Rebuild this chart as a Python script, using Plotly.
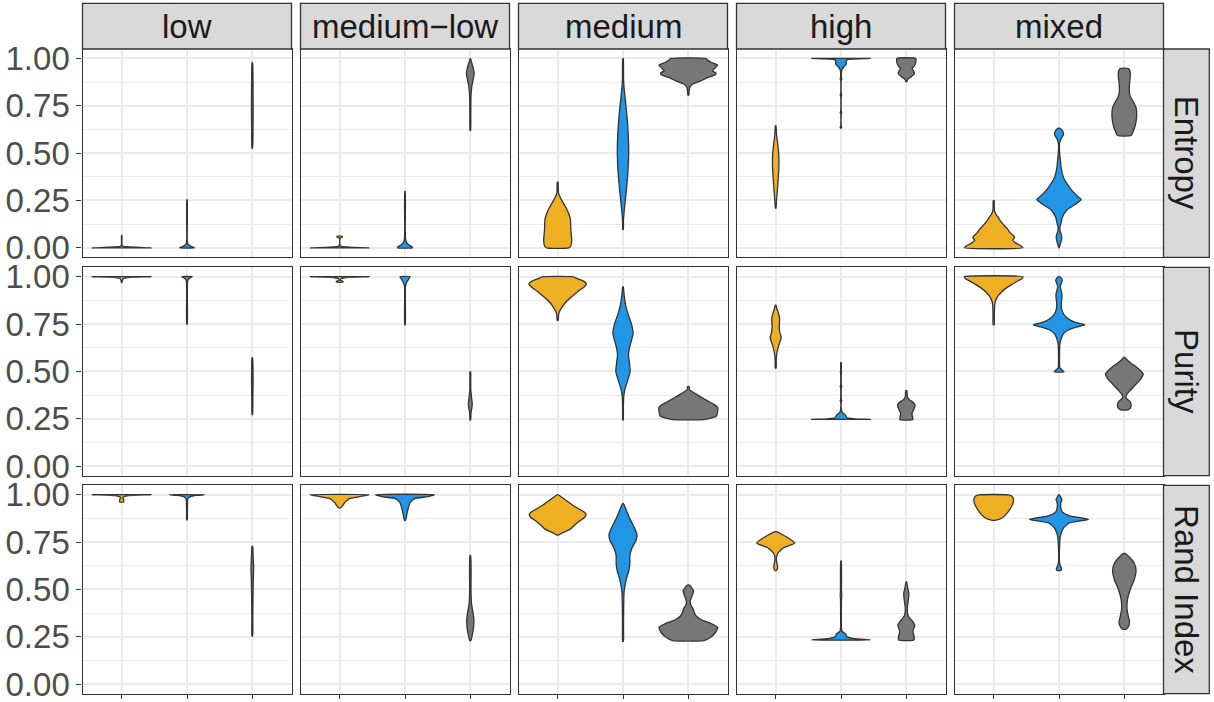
import plotly.graph_objects as go

W, H = 1214, 702
METRICS = ["Entropy", "Purity", "Rand Index"]
LEVELS = ["low", "medium−low", "medium", "high", "mixed"]
GROUP_COLORS = ["#EEB022", "#2196E6", "#777777"]
Y_TICKS = [0, 0.25, 0.5, 0.75, 1.0]
Y_TICK_TEXT = ["0.00", "0.25", "0.50", "0.75", "1.00"]
Y_MINOR = [0.125, 0.375, 0.625, 0.875]

# Density profiles: (value, half-width) pairs, one list per violin
# order inside each panel: orange, blue, gray group
ENTROPY = {
    "low": [
        [(0, 0.45), (0.003, 0.2), (0.008, 0.02), (0.015, 0.004), (0.065, 0.003)],
        [(0, 0.115), (0.008, 0.06), (0.018, 0.015), (0.04, 0.004), (0.254, 0.003)],
        [(0.526, 0.004), (0.6, 0.01), (0.75, 0.013), (0.9, 0.01), (0.977, 0.004)],
    ],
    "medium−low": [
        [(0, 0.45), (0.004, 0.15), (0.01, 0.01), (0.05, 0.004), (0.056, 0.04), (0.062, 0.04)],
        [(0, 0.115), (0.005, 0.11), (0.015, 0.06), (0.03, 0.02), (0.05, 0.008), (0.1, 0.004), (0.298, 0.003)],
        [(0.619, 0.004), (0.7, 0.007), (0.8, 0.01), (0.85, 0.022), (0.9, 0.05), (0.92, 0.06),
         (0.95, 0.045), (0.98, 0.02), (1.0, 0.003)],
    ],
    "medium": [
        [(0, 0.17), (0.01, 0.2), (0.04, 0.215), (0.08, 0.205), (0.11, 0.2), (0.15, 0.195), (0.18, 0.17),
         (0.21, 0.13), (0.24, 0.08), (0.27, 0.035), (0.29, 0.012), (0.347, 0.006)],
        [(0.096, 0.004), (0.15, 0.008), (0.2, 0.02), (0.3, 0.05), (0.4, 0.075), (0.5, 0.087), (0.6, 0.08),
         (0.7, 0.06), (0.8, 0.03), (0.85, 0.015), (0.9, 0.008), (1.0, 0.004)],
        [(0.807, 0.008), (0.83, 0.012), (0.85, 0.025), (0.865, 0.07), (0.88, 0.18), (0.9, 0.3), (0.915, 0.42),
         (0.925, 0.42), (0.935, 0.37), (0.95, 0.41), (0.965, 0.45), (0.98, 0.35), (0.99, 0.3), (1.0, 0.27)],
    ],
    "high": [
        [(0.21, 0.005), (0.25, 0.012), (0.3, 0.025), (0.35, 0.035), (0.4, 0.045), (0.45, 0.05), (0.5, 0.045),
         (0.55, 0.03), (0.6, 0.012), (0.644, 0.005)],
        [(0.632, 0.004), (0.636, 0.012), (0.642, 0.004), (0.71, 0.004), (0.714, 0.012), (0.72, 0.004),
         (0.8, 0.004), (0.807, 0.012), (0.813, 0.004), (0.885, 0.004), (0.89, 0.012), (0.9, 0.006),
         (0.94, 0.012), (0.955, 0.04), (0.97, 0.08), (0.985, 0.08), (0.994, 0.1), (0.998, 0.3), (1.0, 0.45)],
        [(0.877, 0.005), (0.89, 0.02), (0.905, 0.08), (0.92, 0.125), (0.935, 0.11), (0.948, 0.09),
         (0.96, 0.12), (0.98, 0.145), (1.0, 0.145)],
    ],
    "mixed": [
        [(0, 0.45), (0.01, 0.42), (0.025, 0.34), (0.04, 0.29), (0.055, 0.32), (0.065, 0.3), (0.08, 0.25),
         (0.1, 0.21), (0.13, 0.13), (0.16, 0.07), (0.18, 0.03), (0.2, 0.01), (0.25, 0.006)],
        [(0, 0.003), (0.02, 0.02), (0.045, 0.04), (0.065, 0.04), (0.085, 0.02), (0.105, 0.012), (0.13, 0.03),
         (0.16, 0.05), (0.2, 0.12), (0.23, 0.25), (0.255, 0.34), (0.28, 0.26), (0.31, 0.18), (0.34, 0.12),
         (0.37, 0.07), (0.4, 0.045), (0.43, 0.03), (0.46, 0.022), (0.5, 0.01), (0.55, 0.008), (0.575, 0.03),
         (0.6, 0.07), (0.62, 0.05), (0.632, 0.01)],
        [(0.593, 0.105), (0.61, 0.13), (0.65, 0.17), (0.7, 0.19), (0.74, 0.18), (0.77, 0.14), (0.8, 0.09),
         (0.83, 0.075), (0.87, 0.08), (0.9, 0.09), (0.93, 0.09), (0.947, 0.065)],
    ],
}

PURITY = {
    "low": [
        [(0.97, 0.004), (0.98, 0.01), (0.99, 0.02), (0.996, 0.1), (1.0, 0.45)],
        [(0.75, 0.004), (0.9, 0.005), (0.97, 0.008), (0.98, 0.012), (0.99, 0.03), (1.0, 0.08)],
        [(0.272, 0.004), (0.35, 0.008), (0.45, 0.012), (0.52, 0.01), (0.572, 0.004)],
    ],
    "medium−low": [
        [(0.972, 0.05), (0.976, 0.05), (0.98, 0.01), (0.99, 0.02), (0.997, 0.15), (1.0, 0.45)],
        [(0.746, 0.004), (0.9, 0.005), (0.95, 0.008), (0.97, 0.025), (0.99, 0.06), (1.0, 0.077)],
        [(0.244, 0.005), (0.28, 0.01), (0.31, 0.025), (0.33, 0.03), (0.36, 0.02), (0.4, 0.008),
         (0.45, 0.006), (0.498, 0.005)],
    ],
    "medium": [
        [(0.77, 0.008), (0.79, 0.012), (0.81, 0.02), (0.83, 0.05), (0.86, 0.11), (0.89, 0.2), (0.92, 0.3),
         (0.945, 0.4), (0.963, 0.44), (0.98, 0.38), (0.99, 0.3), (1.0, 0.24)],
        [(0.244, 0.004), (0.3, 0.006), (0.36, 0.01), (0.4, 0.025), (0.45, 0.07), (0.5, 0.11), (0.54, 0.1),
         (0.59, 0.084), (0.64, 0.11), (0.7, 0.155), (0.75, 0.13), (0.8, 0.08), (0.85, 0.04), (0.9, 0.018),
         (0.947, 0.004)],
        [(0.246, 0.24), (0.255, 0.36), (0.265, 0.43), (0.29, 0.45), (0.31, 0.45), (0.325, 0.4), (0.34, 0.32),
         (0.36, 0.22), (0.38, 0.12), (0.395, 0.05), (0.405, 0.015), (0.421, 0.012)],
    ],
    "high": [
        [(0.518, 0.006), (0.56, 0.008), (0.6, 0.02), (0.64, 0.05), (0.68, 0.085), (0.71, 0.06), (0.74, 0.055),
         (0.78, 0.06), (0.81, 0.04), (0.83, 0.02), (0.849, 0.005)],
        [(0.247, 0.45), (0.25, 0.2), (0.255, 0.09), (0.265, 0.075), (0.275, 0.05), (0.285, 0.015),
         (0.293, 0.012), (0.3, 0.005), (0.34, 0.005), (0.346, 0.012), (0.352, 0.005), (0.415, 0.005),
         (0.421, 0.012), (0.427, 0.005), (0.49, 0.005), (0.495, 0.01), (0.5, 0.005), (0.547, 0.004)],
        [(0.246, 0.1), (0.26, 0.095), (0.28, 0.087), (0.3, 0.115), (0.32, 0.135), (0.335, 0.11), (0.35, 0.05),
         (0.365, 0.015), (0.398, 0.01)],
    ],
    "mixed": [
        [(0.746, 0.008), (0.8, 0.01), (0.85, 0.015), (0.875, 0.03), (0.9, 0.07), (0.92, 0.12), (0.94, 0.19),
         (0.96, 0.28), (0.98, 0.38), (0.99, 0.43), (1.0, 0.45)],
        [(0.498, 0.077), (0.51, 0.04), (0.52, 0.012), (0.55, 0.008), (0.6, 0.008), (0.64, 0.012), (0.67, 0.03),
         (0.7, 0.07), (0.72, 0.15), (0.735, 0.28), (0.746, 0.395), (0.755, 0.3), (0.77, 0.18), (0.79, 0.1),
         (0.81, 0.06), (0.83, 0.04), (0.86, 0.035), (0.89, 0.045), (0.91, 0.045), (0.93, 0.03), (0.95, 0.02),
         (0.965, 0.035), (0.98, 0.05), (0.99, 0.04), (1.0, 0.015)],
        [(0.297, 0.05), (0.305, 0.09), (0.32, 0.105), (0.34, 0.09), (0.355, 0.04), (0.365, 0.025), (0.38, 0.04),
         (0.4, 0.09), (0.43, 0.17), (0.46, 0.25), (0.486, 0.29), (0.51, 0.23), (0.535, 0.14), (0.555, 0.06),
         (0.574, 0.008)],
    ],
}

RAND_INDEX = {
    "low": [
        [(0.962, 0.03), (0.975, 0.03), (0.985, 0.015), (0.995, 0.1), (1.0, 0.45)],
        [(0.868, 0.005), (0.9, 0.006), (0.95, 0.008), (0.98, 0.015), (0.99, 0.05), (0.997, 0.15), (1.0, 0.27)],
        [(0.254, 0.005), (0.35, 0.007), (0.45, 0.01), (0.55, 0.015), (0.62, 0.02), (0.68, 0.012), (0.728, 0.005)],
    ],
    "medium−low": [
        [(0.93, 0.01), (0.94, 0.04), (0.96, 0.08), (0.98, 0.15), (0.99, 0.3), (1.0, 0.45)],
        [(0.865, 0.008), (0.88, 0.02), (0.9, 0.03), (0.93, 0.05), (0.96, 0.08), (0.98, 0.15), (0.99, 0.35),
         (1.0, 0.45)],
        [(0.23, 0.008), (0.26, 0.03), (0.3, 0.05), (0.34, 0.055), (0.38, 0.04), (0.42, 0.02), (0.5, 0.01),
         (0.6, 0.012), (0.68, 0.005)],
    ],
    "medium": [
        [(0.787, 0.01), (0.8, 0.08), (0.82, 0.2), (0.84, 0.26), (0.86, 0.33), (0.88, 0.41), (0.896, 0.436),
         (0.91, 0.4), (0.93, 0.3), (0.945, 0.23), (0.96, 0.17), (0.975, 0.11), (0.99, 0.05), (1.0, 0.01)],
        [(0.226, 0.006), (0.3, 0.008), (0.4, 0.01), (0.48, 0.015), (0.52, 0.03), (0.56, 0.055), (0.6, 0.09),
         (0.64, 0.105), (0.68, 0.105), (0.72, 0.14), (0.76, 0.2), (0.79, 0.214), (0.83, 0.17), (0.87, 0.11),
         (0.91, 0.06), (0.94, 0.025), (0.954, 0.005)],
        [(0.23, 0.24), (0.245, 0.33), (0.27, 0.41), (0.3, 0.45), (0.32, 0.35), (0.34, 0.2), (0.36, 0.12),
         (0.38, 0.09), (0.4, 0.07), (0.42, 0.035), (0.44, 0.03), (0.46, 0.05), (0.49, 0.08), (0.51, 0.05),
         (0.524, 0.008)],
    ],
    "high": [
        [(0.6, 0.008), (0.615, 0.03), (0.63, 0.025), (0.66, 0.01), (0.69, 0.03), (0.72, 0.12), (0.745, 0.29),
         (0.77, 0.2), (0.79, 0.1), (0.805, 0.01)],
        [(0.233, 0.45), (0.24, 0.2), (0.25, 0.09), (0.265, 0.07), (0.28, 0.015), (0.3, 0.006), (0.35, 0.006),
         (0.4, 0.006), (0.45, 0.008), (0.47, 0.012), (0.49, 0.008), (0.55, 0.008), (0.6, 0.008), (0.65, 0.004)],
        [(0.233, 0.12), (0.25, 0.12), (0.28, 0.1), (0.31, 0.13), (0.33, 0.1), (0.36, 0.03), (0.4, 0.015),
         (0.44, 0.03), (0.48, 0.04), (0.51, 0.02), (0.54, 0.005)],
    ],
    "mixed": [
        [(0.865, 0.02), (0.87, 0.08), (0.88, 0.14), (0.9, 0.2), (0.93, 0.26), (0.96, 0.3), (0.98, 0.3),
         (0.995, 0.27), (1.0, 0.22)],
        [(0.6, 0.03), (0.61, 0.04), (0.625, 0.02), (0.65, 0.006), (0.72, 0.008), (0.78, 0.02), (0.82, 0.06),
         (0.85, 0.15), (0.87, 0.45), (0.89, 0.15), (0.91, 0.05), (0.94, 0.025), (0.96, 0.03), (0.975, 0.045),
         (0.99, 0.02), (1.0, 0.005)],
        [(0.29, 0.03), (0.31, 0.07), (0.33, 0.08), (0.36, 0.06), (0.4, 0.04), (0.45, 0.05), (0.5, 0.09),
         (0.55, 0.15), (0.6, 0.18), (0.64, 0.15), (0.67, 0.08), (0.69, 0.01)],
    ],
}

METRIC_DATA = [ENTROPY, PURITY, RAND_INDEX]

# ---------- layout geometry (pixels) ----------
COL_X0 = [82.5 + 218 * i for i in range(5)]
PANEL_W = 209
ROW_Y0 = [49, 267.3, 485.3]
PANEL_H = 208.3
STRIP_TOP = 3.3
STRIP_RIGHT_X1 = 1209.3

FONT = "Liberation Sans, Arial, Helvetica, sans-serif"
BORDER = "#333333"
GRID = "#EBEBEB"


def px_x(p):
    return p / W


def px_y(p):
    return 1 - p / H


fig = go.Figure()
layout = {}

for r, data in enumerate(METRIC_DATA):
    for c, level in enumerate(LEVELS):
        n = r * 5 + c + 1
        xa = "x" if n == 1 else f"x{n}"
        ya = "y" if n == 1 else f"y{n}"
        for g, prof in enumerate(data[level]):
            ys = [p[0] for p in prof]
            ws = [p[1] for p in prof]
            cx = g + 1
            xs = [cx + w for w in ws] + [cx - w for w in reversed(ws)] + [cx + ws[0]]
            yy = ys + list(reversed(ys)) + [ys[0]]
            fig.add_trace(go.Scatter(
                x=xs, y=yy, xaxis=xa, yaxis=ya, mode="lines", fill="toself",
                fillcolor=GROUP_COLORS[g],
                line=dict(color=BORDER, width=1.3, shape="spline", smoothing=0.5),
                hoverinfo="skip", showlegend=False))
        x0 = COL_X0[c]
        y0 = ROW_Y0[r]
        layout["xaxis" if n == 1 else f"xaxis{n}"] = dict(
            domain=[px_x(x0), px_x(x0 + PANEL_W)], range=[0.4, 3.6], anchor=ya, automargin=False,
            tickvals=[1, 2, 3], showticklabels=False,
            ticks="outside" if r == 2 else "", ticklen=4, tickwidth=1.2, tickcolor=BORDER,
            showgrid=True, gridcolor=GRID, gridwidth=1.5, zeroline=False,
            showline=True, mirror=True, linecolor=BORDER, linewidth=1.3, fixedrange=True)
        layout["yaxis" if n == 1 else f"yaxis{n}"] = dict(
            domain=[px_y(y0 + PANEL_H), px_y(y0)], range=[-0.05, 1.05], anchor=xa, automargin=False,
            tickvals=Y_TICKS, ticktext=Y_TICK_TEXT, showticklabels=(c == 0),
            ticklabeloverflow="allow",
            ticks="outside" if c == 0 else "", ticklen=5, tickwidth=1.2, tickcolor=BORDER,
            tickfont=dict(family=FONT, size=33, color="#4D4D4D"),
            showgrid=True, gridcolor=GRID, gridwidth=1.5, zeroline=False,
            minor=dict(tickvals=Y_MINOR, showgrid=True, gridcolor=GRID, gridwidth=0.8, ticks=""),
            showline=True, mirror=True, linecolor=BORDER, linewidth=1.3, fixedrange=True)

shapes = []
annotations = []
# top strips
for c, level in enumerate(LEVELS):
    x0 = COL_X0[c]
    shapes.append(dict(type="rect", xref="paper", yref="paper",
                       x0=px_x(x0), x1=px_x(x0 + PANEL_W), y0=px_y(ROW_Y0[0]), y1=px_y(STRIP_TOP),
                       fillcolor="#D9D9D9", line=dict(color=BORDER, width=1.3)))
    annotations.append(dict(text=level, xref="paper", yref="paper",
                            x=px_x(x0 + PANEL_W / 2), y=px_y((STRIP_TOP + ROW_Y0[0]) / 2),
                            xanchor="center", yanchor="middle", showarrow=False,
                            font=dict(family=FONT, size=33, color="#1A1A1A")))
# right strips
sx0 = COL_X0[4] + PANEL_W
for r, metric in enumerate(METRICS):
    y0 = ROW_Y0[r]
    shapes.append(dict(type="rect", xref="paper", yref="paper",
                       x0=px_x(sx0), x1=px_x(STRIP_RIGHT_X1), y0=px_y(y0 + PANEL_H), y1=px_y(y0),
                       fillcolor="#D9D9D9", line=dict(color=BORDER, width=1.3)))
    annotations.append(dict(text=metric, xref="paper", yref="paper",
                            x=px_x((sx0 + STRIP_RIGHT_X1) / 2), y=px_y(y0 + PANEL_H / 2),
                            xanchor="center", yanchor="middle", showarrow=False, textangle=90,
                            font=dict(family=FONT, size=33, color="#1A1A1A")))

fig.update_layout(
    width=W, height=H, margin=dict(l=0, r=0, t=0, b=0, autoexpand=False),
    paper_bgcolor="white", plot_bgcolor="white",
    shapes=shapes, annotations=annotations, showlegend=False,
    **layout)

fig.write_html("out.html", config={"displayModeBar": False},
               post_script="document.body.style.margin='0px';")
